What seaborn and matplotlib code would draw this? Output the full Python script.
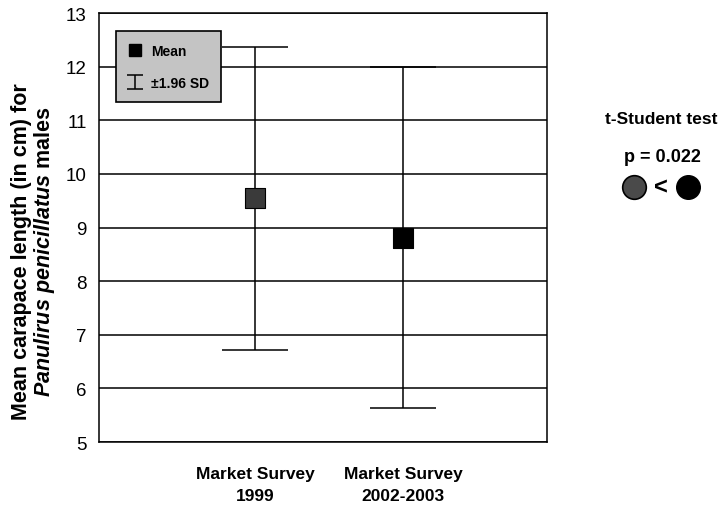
import matplotlib
matplotlib.use("Agg")
import numpy as np
import matplotlib.pyplot as plt
import seaborn as sns
import pandas as pd
from matplotlib.lines import Line2D

# Survey groups and carapace-length statistics (cm)
surveys = ["Market Survey\n1999", "Market Survey\n2002-2003"]
mean_cl = [9.55, 8.81]
upper_cl = [12.36, 11.99]   # mean + 1.96 SD
lower_cl = [6.71, 5.64]     # mean - 1.96 SD
y_ticks = [5, 6, 7, 8, 9, 10, 11, 12, 13]
marker_colors = ["#3a3a3a", "#000000"]

sns.set_theme(style="white")
plt.rcParams["font.family"] = ["Liberation Sans", "DejaVu Sans"]
plt.rcParams["text.color"] = "black"
plt.rcParams["axes.labelcolor"] = "black"
plt.rcParams["xtick.color"] = "black"
plt.rcParams["ytick.color"] = "black"
plt.rcParams["mathtext.fontset"] = "custom"
plt.rcParams["mathtext.rm"] = "Liberation Sans:bold"
plt.rcParams["mathtext.bfit"] = "Liberation Sans:italic:bold"
plt.rcParams["mathtext.it"] = "Liberation Sans:italic:bold"

df = pd.DataFrame({"survey": surveys, "pos": [0, 1], "mean": mean_cl,
                   "upper": upper_cl, "lower": lower_cl})

fig = plt.figure(figsize=(7.19, 5.06), dpi=100)
ax = fig.add_axes([0.1377, 0.1245, 0.6233, 0.8478])

# horizontal grid at every centimetre
for t in y_ticks:
    ax.axhline(t, color="black", lw=1.1, zorder=0)

# +-1.96 SD whiskers
ax.errorbar(df["pos"], df["mean"],
            yerr=[df["mean"] - df["lower"], df["upper"] - df["mean"]],
            fmt="none", ecolor="black", elinewidth=1.1,
            capsize=24, capthick=1.1, zorder=2)

# mean markers
sns.scatterplot(data=df, x="pos", y="mean", hue="survey",
                palette=marker_colors, marker="s", s=200,
                edgecolor="black", linewidth=0.8, legend=False,
                zorder=3, ax=ax)

ax.set_xlim(-1.054, 1.973)
ax.set_ylim(5, 13)
ax.set_yticks(y_ticks)
ax.set_yticklabels([str(t) for t in y_ticks], fontsize=13.5)
ax.set_xticks(df["pos"])
ax.set_xticklabels(df["survey"], fontsize=12.5, fontweight="bold",
                   linespacing=1.6)
ax.tick_params(axis="y", length=0, pad=9)
ax.tick_params(axis="x", length=0, pad=17)
for s in ax.spines.values():
    s.set_color("black")
    s.set_linewidth(1.1)

ax.set_xlabel("")
ax.set_ylabel("Mean carapace length (in cm) for\n"
              r"$\mathbfit{Panulirus\ penicillatus}$ males",
              fontsize=15.5, fontweight="bold", linespacing=0.98)
ax.yaxis.set_label_coords(-0.094, 0.445)

# legend keys: a filled square and a small whisker symbol
mean_handle = Line2D([], [], marker="s", color="black", linestyle="none",
                     markersize=8)
sd_handle = ax.errorbar([np.nan], [np.nan], yerr=[1], fmt="none",
                        ecolor="black", elinewidth=1.1, capsize=6,
                        capthick=1.1)
leg = ax.legend([mean_handle, sd_handle], ["Mean", "±1.96 SD"],
                loc="upper left", bbox_to_anchor=(0.038, 0.958),
                borderaxespad=0, frameon=True, fancybox=False,
                facecolor="#c4c4c4", edgecolor="black", framealpha=1,
                prop={"weight": "bold", "size": 10}, handlelength=1.0,
                borderpad=0.9, labelspacing=1.3, handletextpad=0.6)
leg.get_frame().set_linewidth(1.2)

# t-test annotation
fig.text(605 / 719, 1 - 120 / 506, "t-Student test", ha="left", va="center",
         fontsize=12.5, fontweight="bold")
fig.text(662 / 719, 1 - 157 / 506, "p = 0.022", ha="center", va="center",
         fontsize=13, fontweight="bold")
fig.lines.append(Line2D([634 / 719], [1 - 188 / 506], transform=fig.transFigure,
                        marker="o", markersize=17, color="#4a4a4a",
                        markeredgecolor="black", markeredgewidth=1.2))
fig.text(661 / 719, 1 - 188 / 506, "<", ha="center", va="center",
         fontsize=17, fontweight="bold")
fig.lines.append(Line2D([688 / 719], [1 - 188 / 506], transform=fig.transFigure,
                        marker="o", markersize=17, color="black"))

fig.savefig("out.png", dpi=100)
